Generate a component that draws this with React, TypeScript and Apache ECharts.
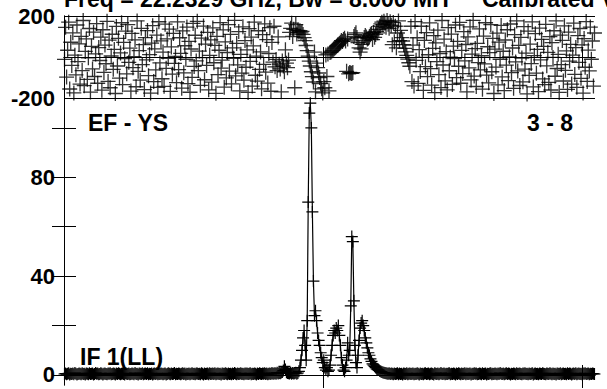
import React, { useEffect, useRef } from 'react';
import * as echarts from 'echarts';

// Channel numbering: every plotted point is a channel of a 1024-channel band, step 2
const CHANNEL_STEP = 2;
const CHANNEL_MAX = 1024;
const X_TICKS = [500, 1000];

// Amplitude (bottom panel), one value per plotted channel
const AMPLITUDE = [
  .4,.6,.3,.5,.7,.2,.5,.4,.6,.3,.8,.5,.2,.4,.6,.5,
  .3,.7,.4,.5,.2,.6,.5,.3,.7,.4,.5,.6,.2,.4,.8,.5,
  .6,.3,.4,.7,.5,.2,.5,.6,.4,.3,.6,.5,.7,.3,.4,.6,
  .5,.2,.6,.4,.7,.5,.3,.5,.6,.4,.2,.7,.5,.4,.6,.3,
  .4,.6,.5,.3,.8,.4,.5,.2,.6,.5,.4,.7,.3,.5,.6,.4,
  .7,.3,.5,.4,.6,.2,.5,.6,.4,.7,.3,.5,.4,.6,.5,.3,
  .5,.6,.2,.4,.7,.5,.3,.6,.4,.5,.8,.3,.5,.4,.6,.5,
  .3,.5,.7,.4,.6,.2,.5,.4,.6,.3,.5,.7,.4,.5,.3,.6,
  .6,.4,.5,.3,.7,.5,.2,.6,.4,.5,.6,.3,.7,.4,.5,.6,
  .4,.7,.3,.5,.6,.4,.5,.2,.6,.5,.4,.7,.5,.3,.6,.4,
  .5,.3,.6,.4,.8,.5,.3,.6,.4,.5,.7,.4,.5,.3,.6,.5,
  .6,.4,.5,.7,.3,.5,.4,.6,.5,.2,.6,.4,.7,.5,.4,.6,
  .5,.7,.4,.6,.3,.5,.6,.4,.8,.5,.6,.7,.5,.9,.6,.8,
  .7,1,1.2,1.8,3.5,2.2,1.1,.8,.7,.6,.9,.5,.8,.6,.7,.9,
  .5,.8,1.5,3,6,10,15,18,12,6,22,70,106,110,100,66,
  38,24,26,22,17,14,12,9,7,5,6,3,2,3,1.5,2,
  4,8,12,16,18,17,19,18,20,16,12,7,4,2,1.5,3,
  6,13,8,10,28,56,54,30,12,5,3,8,14,19,21,22,
  20,18,15,13,11,9,8,6.5,5.5,4.5,4,3.5,3,2.5,2.2,2,
  1.6,1.4,1.2,1,.9,.8,.7,.6,.5,.7,.4,.6,.5,.3,.6,.4,
  .5,.7,.3,.6,.4,.5,.2,.6,.5,.4,.7,.3,.5,.6,.4,.5,
  .6,.3,.5,.4,.7,.5,.2,.6,.4,.5,.3,.6,.7,.4,.5,.6,
  .3,.5,.6,.4,.2,.7,.5,.4,.6,.3,.5,.8,.4,.5,.6,.3,
  .5,.4,.6,.7,.3,.5,.4,.6,.5,.2,.6,.4,.7,.5,.3,.6,
  .4,.5,.7,.3,.6,.4,.5,.6,.2,.5,.4,.7,.5,.6,.3,.4,
  .6,.5,.3,.7,.4,.5,.6,.2,.5,.4,.6,.7,.3,.5,.4,.6,
  .5,.3,.6,.4,.8,.5,.4,.6,.3,.5,.7,.4,.6,.5,.2,.5,
  .4,.6,.5,.3,.7,.4,.5,.6,.4,.3,.6,.5,.7,.4,.5,.3,
  .6,.4,.5,.7,.2,.5,.6,.4,.5,.3,.6,.5,.4,.7,.5,.4,
  .3,.6,.5,.4,.7,.5,.3,.6,.4,.5,.2,.6,.5,.4,.7,.3,
  .5,.6,.4,.5,.3,.7,.4,.6,.5,.2,.5,.6,.4,.7,.3,.5,
  .6,.4,.5,.3,.6,.5,.7,.4,.5,.6,.3,.5,.4,.6,.5,.4,
];

// Phase in degrees (top panel), one value per plotted channel
const PHASE = [
  -12,145,-98,33,170,-156,72,-41,118,-175,9,-87,156,-23,64,-132,
  101,-66,178,-140,27,88,-109,-4,139,-171,52,-58,121,-95,15,163,
  -128,46,-17,97,-162,133,-75,58,-33,174,-119,82,-150,5,111,-60,
  37,-178,149,-44,91,-103,20,167,-135,71,-8,126,-82,158,-26,43,
  -166,115,-52,2,84,-145,176,-70,31,-113,140,-37,60,-159,95,-14,
  129,-91,12,-176,68,153,-120,40,-63,107,-148,172,-29,79,-106,24,
  -143,160,-55,88,-7,136,-168,49,-84,115,-31,3,-125,171,-62,94,
  18,-152,127,-77,55,-11,146,-130,76,-172,39,-99,164,-46,106,-19,
  174,-66,29,-138,92,-3,151,-111,63,-41,120,-160,8,84,-123,142,
  -28,57,-177,101,-86,33,168,-54,-15,132,-147,74,-102,22,158,-69,
  110,-131,45,-6,179,-92,66,-38,124,-165,13,-79,147,-113,80,-50,
  35,-173,138,-21,97,-142,54,170,-89,4,-118,128,-60,25,-155,109,
  -36,162,-74,85,-127,17,143,-167,71,
  -25,150,-48,-12,-66,98,-35,-58,-170,-20,-44,-72,35,-30,-52,-15,120,140,
  165,100,135,-150,158,112,130,122,128,118,125,110,95,
  80,56,31,4,-20,-44,-72,-96,-122,24,-170,-30,-52,-78,-100,-130,-155,-175,-120,
  -150,10,-95,15,-165,22,
  25,30,34,40,45,50,56,60,66,72,80,76,
  85,92,78,-70,88,-82,-75,-78,-80,-76,100,
  110,118,95,70,45,24,40,62,80,95,105,98,88,92,100,108,115,85,120,96,110,125,118,
  135,150,162,170,158,175,165,145,178,160,140,172,155,60,168,75,150,45,117,176,80,130,
  95,78,60,42,25,8,-10,-28,-45,150,-120,
  58,-141,173,-16,94,-129,36,-71,150,-2,-163,81,-47,119,-96,11,
  166,-57,-137,42,104,-174,69,-23,131,-86,17,-149,178,-39,87,-116,
  26,-160,143,-67,-1,112,-134,53,-8,156,-101,76,-45,169,-128,32,
  -81,124,-19,61,-170,98,-53,147,-112,14,179,-93,41,-144,66,-27,
  137,-63,6,-157,102,-34,167,-88,50,-126,21,158,-72,91,-178,38,
  -49,116,-136,73,-11,154,-97,28,-164,83,-40,133,-115,1,161,-76,
  44,-153,109,-24,176,-68,57,-139,96,-5,-121,148,-59,19,-180,126,
  -90,63,-32,171,-146,7,114,-79,37,-169,141,-14,86,-107,52,-135,
  159,-43,23,-124,99,-161,70,-2,128,-94,176,-56,13,-173,107,-37,
  81,-117,152,-65,30,-158,121,-20,62,-132,9,165,-85,46,-148,104,
  -26,139,-104,59,-176,90,-50,173,-119,34,-68,146,-11,78,-142,117,
];

const PHASE_MIN = -200;
const PHASE_MAX = 200;
const PHASE_LABELS = [-200, 200];
const AMP_MIN = -4.05;
const AMP_MAX = 112.1;
const AMP_TICKS = [0, 20, 40, 60, 80, 100];
const AMP_LABELS = [0, 40, 80];

const TITLE_MAIN = 'Freq = 22.2329 GHz, Bw = 8.000 MH';
const TITLE_TAIL = 'Calibrated V';
const BASELINE_NAME = 'EF - YS';
const SCAN_NAME = '3 - 8';
const IF_NAME = 'IF 1(LL)';

const FONT = "'Liberation Sans', Arial, sans-serif";
const PLUS = 'path://M5,0L5,10M0,5L10,5';

export default function App() {
  const ref = useRef<HTMLDivElement>(null);
  useEffect(() => {
    if (!ref.current) return;
    const chart = echarts.init(ref.current, undefined, { renderer: 'svg' });
    const chan = (i: number) => i * CHANNEL_STEP + 1;
    const ampData = AMPLITUDE.map((v, i) => [chan(i), v]);
    const phaseData = PHASE.map((v, i) => [chan(i), v]);
    const line = { show: true, lineStyle: { color: '#000', width: 1 } };
    const xBase = (gridIndex: number, position: 'top' | 'bottom', len: number) => ({
      type: 'value', gridIndex, position, min: 0, max: CHANNEL_MAX, interval: 500,
      axisLine: line,
      axisTick: { show: true, inside: true, length: len, customValues: X_TICKS, lineStyle: { color: '#000' } },
      axisLabel: { show: false },
      splitLine: { show: false },
    });
    const labelStyle = { color: '#000', fontFamily: FONT, fontWeight: 'bold', fontSize: 22, margin: 9 };
    chart.setOption({
      animation: false,
      backgroundColor: '#fff',
      grid: [
        { left: 64, top: 16, width: 531, height: 82, containLabel: false },
        { left: 64, top: 98, width: 531, height: 287, containLabel: false },
      ],
      xAxis: [
        xBase(0, 'bottom', 10),
        xBase(0, 'top', 10),
        xBase(1, 'bottom', 10),
        xBase(1, 'top', 13),
      ],
      yAxis: [
        {
          type: 'value', gridIndex: 0, position: 'left', min: PHASE_MIN, max: PHASE_MAX, interval: 200,
          axisLine: line, axisTick: { show: false },
          axisLabel: { ...labelStyle, customValues: PHASE_LABELS, formatter: (v: number) => (v === 0 ? '' : String(v)) },
          splitLine: { show: true, lineStyle: { color: '#000', width: 1 } },
        },
        {
          type: 'value', gridIndex: 0, position: 'right', min: PHASE_MIN, max: PHASE_MAX, interval: 200,
          axisLine: line, axisTick: { show: false }, axisLabel: { show: false }, splitLine: { show: false },
        },
        {
          type: 'value', gridIndex: 1, position: 'left', min: AMP_MIN, max: AMP_MAX,
          axisLine: line,
          axisTick: { show: true, inside: true, length: 12, customValues: AMP_TICKS, lineStyle: { color: '#000' } },
          axisLabel: { ...labelStyle, customValues: AMP_LABELS },
          splitLine: { show: false },
        },
        {
          type: 'value', gridIndex: 1, position: 'right', min: AMP_MIN, max: AMP_MAX,
          axisLine: line,
          axisTick: { show: true, inside: true, length: 12, customValues: AMP_TICKS, lineStyle: { color: '#000' } },
          axisLabel: { show: false },
          splitLine: { show: false },
        },
      ],
      series: [
        {
          type: 'scatter', xAxisIndex: 0, yAxisIndex: 0, data: phaseData,
          symbol: PLUS, symbolSize: 15,
          itemStyle: { color: '#000', borderColor: '#000', borderWidth: 1.3 },
        },
        {
          type: 'line', xAxisIndex: 2, yAxisIndex: 2, data: ampData,
          symbol: PLUS, symbolSize: [12, 12], showAllSymbol: true,
          lineStyle: { color: '#000', width: 1.2 },
          itemStyle: { color: '#000', borderColor: '#000', borderWidth: 1.2 },
        },
      ],
      graphic: [
        { type: 'text', x: 64, y: -1, style: { text: TITLE_MAIN, font: `bold 23px ${FONT}`, fill: '#000', textAlign: 'left', textVerticalAlign: 'middle' } },
        { type: 'text', x: 482, y: -1, style: { text: TITLE_TAIL, font: `bold 23px ${FONT}`, fill: '#000', textAlign: 'left', textVerticalAlign: 'middle' } },
        { type: 'text', x: 88, y: 123, style: { text: BASELINE_NAME, font: `bold 23px ${FONT}`, fill: '#000', textAlign: 'left', textVerticalAlign: 'middle' } },
        { type: 'text', x: 573, y: 123, style: { text: SCAN_NAME, font: `bold 23px ${FONT}`, fill: '#000', textAlign: 'right', textVerticalAlign: 'middle' } },
        { type: 'text', x: 80, y: 357, style: { text: IF_NAME, font: `bold 23px ${FONT}`, fill: '#000', textAlign: 'left', textVerticalAlign: 'middle' } },
      ],
    });
    return () => chart.dispose();
  }, []);
  return <div ref={ref} style={{ position: 'absolute', left: 0, top: 0, width: 607, height: 389, background: '#fff' }} />;
}
